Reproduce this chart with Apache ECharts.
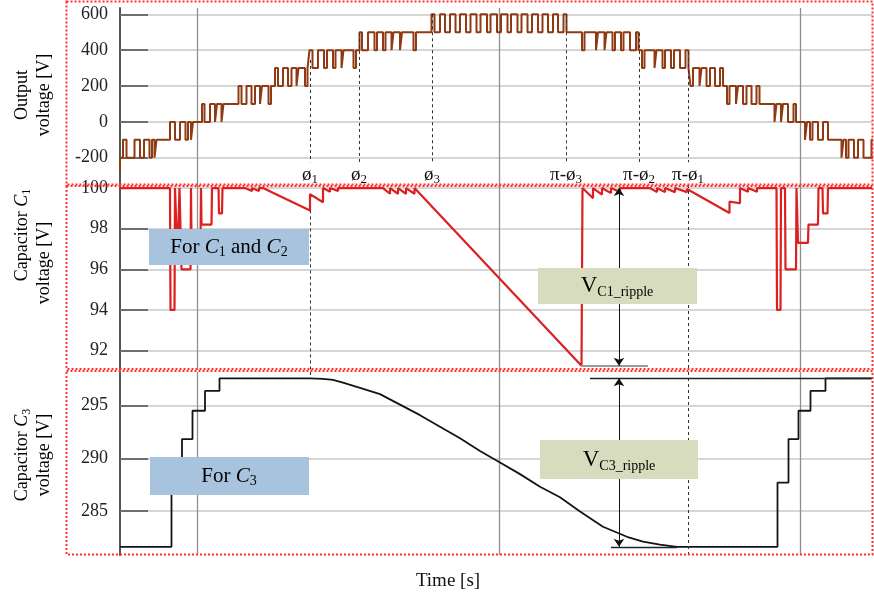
<!DOCTYPE html>
<html>
<head>
<meta charset="utf-8">
<script src="https://cdn.jsdelivr.net/npm/echarts@6/dist/echarts.min.js"></script>
<style>
  html, body { margin: 0; padding: 0; background: #fff; }
  #chart { width: 874px; height: 599px; }
</style>
</head>
<body>
<div id="chart"></div>
<script>
// ---------- time base (ms) ----------
const timeMin = 2.42;
const timeMax = 17.46;
const timeGridMs = [3.96, 10.0, 16.02];

// ---------- output voltage: level-shifted PWM staircase ----------
// each band: start time, base level, pulse level, pulse [on, off] times
const outStartV = -280;
const outSegStartMs = [2.42, 3.15, 3.88, 4.49, 5.44, 6.17, 7.14, 8.34, 11.66, 12.86, 13.83, 14.56, 15.51, 16.12, 16.85];
const outBaseV  = [-200, -100,   0, 100, 200, 300, 400, 500, 400, 300, 200, 100,   0, -100, -200];
const outPulseV = [-100,    0, 100, 200, 300, 400, 500, 600, 500, 400, 300, 200, 100,    0, -100];
const outPulsesMs = [
  [2.48, 2.55, 2.71, 2.82, 2.90, 3.01, 3.06, 3.11],
  [3.42, 3.52, 3.62, 3.73, 3.78, 3.84],
  [4.06, 4.11, 4.22, 4.32, 4.36, 4.45],
  [4.79, 4.85, 4.95, 5.05, 5.12, 5.22, 5.26, 5.39],
  [5.52, 5.58, 5.68, 5.78, 5.85, 5.95, 5.99, 6.12],
  [6.21, 6.27, 6.38, 6.50, 6.56, 6.68, 6.73, 6.85, 6.89, 7.09],
  [7.21, 7.26, 7.38, 7.51, 7.56, 7.68, 7.73, 7.85, 7.89, 8.02, 8.06, 8.29],
  [8.65, 8.71, 8.82, 8.92, 9.02, 9.13, 9.22, 9.34, 9.43, 9.55, 9.63, 9.76, 9.83, 9.96,
   10.04, 10.17, 10.24, 10.37, 10.45, 10.57, 10.66, 10.78, 10.87, 10.98, 11.08, 11.18, 11.29, 11.35],
  [11.71, 11.94, 11.98, 12.11, 12.15, 12.27, 12.32, 12.44, 12.49, 12.62, 12.74, 12.79],
  [12.91, 13.11, 13.15, 13.27, 13.32, 13.44, 13.50, 13.62, 13.73, 13.79],
  [13.88, 14.01, 14.05, 14.15, 14.22, 14.32, 14.42, 14.48],
  [14.61, 14.74, 14.78, 14.88, 14.95, 15.05, 15.15, 15.21],
  [15.55, 15.64, 15.68, 15.78, 15.89, 15.94],
  [16.16, 16.22, 16.27, 16.38, 16.48, 16.58],
  [16.89, 16.94, 16.99, 17.10, 17.18, 17.29, 17.45, 17.52]
];
const outTicks = [600, 400, 200, 0, -200];

// ---------- capacitor C1 voltage ----------
const c1TimeMs = [2.42, 3.42, 3.43, 3.51, 3.52, 3.56, 3.57, 3.60, 3.61, 3.64, 3.65, 3.83, 3.84, 3.85, 4.03, 4.04,
  4.05, 4.25, 4.26, 4.39, 4.40, 4.46, 4.47, 4.92, 5.06, 5.06, 5.20, 5.20, 5.28, 6.22, 6.22, 6.48, 6.48,
  6.62, 6.62, 6.78, 6.78, 7.68, 7.82, 7.82, 7.98, 7.98, 8.14, 8.14, 8.31, 8.31, 8.35, 11.65, 11.67,
  11.88, 11.88, 12.06, 12.06, 12.24, 12.24, 12.42, 12.42, 13.02, 13.16, 13.16, 13.32, 13.32, 13.52, 13.52,
  13.76, 13.76, 14.61, 14.61, 14.82, 14.82, 14.98, 14.98, 15.16, 15.16, 15.55, 15.56, 15.63, 15.64, 15.72,
  15.73, 15.94, 15.95, 15.97, 15.98, 16.18, 16.19, 16.38, 16.39, 16.47, 16.48, 16.57, 16.58, 17.46];
const c1Volt = [100, 100, 94.0, 94.0, 100, 100, 96.5, 96.5, 100, 100, 96.0, 96.0, 100, 97.3, 97.3, 100,
  98.2, 98.2, 100, 100, 98.75, 98.75, 100, 100, 99.85, 100, 99.85, 100, 100, 98.9, 99.7, 99.3, 100,
  99.82, 100, 99.86, 100, 100, 99.72, 100, 99.72, 100, 99.72, 100, 99.72, 100, 100, 91.25, 100,
  99.5, 100, 99.68, 100, 99.75, 100, 99.8, 100, 100, 99.8, 100, 99.8, 100, 99.8, 100,
  99.8, 99.95, 98.77, 99.33, 99.25, 100, 99.82, 100, 99.82, 100, 100, 94.0, 94.0, 100, 100,
  96.0, 96.0, 100, 100, 97.3, 97.3, 98.2, 98.2, 100, 100, 98.75, 98.75, 100, 100];
const c1Ticks = [100, 98, 96, 94, 92];

// ---------- capacitor C3 voltage ----------
const c3TimeMs = [2.42, 3.45, 3.45, 3.66, 3.66, 3.87, 3.87, 4.12, 4.12, 4.41, 4.41, 6.22, 6.48, 6.68, 6.88,
  7.22, 7.62, 8.02, 8.42, 8.82, 9.22, 9.62, 10.02, 10.42, 10.82, 11.22, 11.62, 12.08, 12.56, 12.88,
  13.22, 13.56, 15.57, 15.57, 15.79, 15.79, 15.99, 15.99, 16.23, 16.23, 16.53, 16.53, 17.46];
const c3Volt = [281.6, 281.6, 287.7, 287.7, 291.83, 291.83, 294.52, 294.52, 296.4, 296.4, 297.6, 297.6, 297.55,
  297.45, 297.2, 296.7, 296.1, 295.1, 294.1, 293.0, 291.9, 290.7, 289.6, 288.5, 287.3, 286.3, 284.95,
  283.5, 282.55, 282.1, 281.8, 281.6, 281.6, 287.7, 287.7, 291.83, 291.83, 294.52, 294.52, 296.4, 296.4,
  297.6, 297.6];
const c3Ticks = [295, 290, 285];

// ---------- switching angles ----------
const phaseMs   = [6.22, 7.20, 8.66, 11.34, 12.80, 13.78];
const phaseName = ['ø', 'ø', 'ø', 'π-ø', 'π-ø', 'π-ø'];
const phaseSub  = ['1', '2', '3', '3', '2', '1'];
const phaseTopV = [345, 496, 600, 600, 496, 390];

// ripple measurement positions (ms)
const rippleArrowMs = 12.40;
const c1RippleLineMs = [11.64, 12.98];
const c3TopLineMs = [11.82, 17.46];
const c3BottomLineMs = [12.24, 13.56];

// ---------- helpers ----------
function buildSteps() {
  const pts = [[outSegStartMs[0], outStartV]];
  let cur = outStartV;
  const go = (t, v) => { pts.push([t, cur]); pts.push([t, v]); cur = v; };
  for (let i = 0; i < outSegStartMs.length; i++) {
    go(outSegStartMs[i], outBaseV[i]);
    const p = outPulsesMs[i];
    for (let k = 0; k < p.length; k += 2) {
      go(p[k], outPulseV[i]);
      go(p[k + 1], outBaseV[i]);
    }
  }
  pts.push([timeMax, cur]);
  return pts;
}
const zip = (a, b) => a.map((t, i) => [t, b[i]]);

const serif = "'Liberation Serif', 'Times New Roman', serif";
const c1Max = Math.max(...c1Volt), c1Min = Math.min(...c1Volt);
const c3Max = Math.max(...c3Volt), c3Min = Math.min(...c3Volt);
const yRanges = [[-352, 635], [91.04, 100.15], [280.82, 298.2]];

function xAxisDef(idx, name) {
  return {
    type: 'value', gridIndex: idx, min: timeMin, max: timeMax,
    axisLine: { show: false },
    axisTick: { show: false, customValues: timeGridMs },
    axisLabel: { show: false },
    splitLine: { show: true, lineStyle: { color: '#8e8e8e', width: 1.3 } },
    name: name || '', nameLocation: 'middle', nameGap: 17,
    nameTextStyle: { fontFamily: serif, fontSize: 19, color: '#111', padding: [0, 96, 0, 0] }
  };
}
function yAxisDef(idx, ticks) {
  return {
    type: 'value', gridIndex: idx, min: yRanges[idx][0], max: yRanges[idx][1],
    axisLine: { show: true, lineStyle: { color: '#555', width: 2 } },
    axisTick: { show: true, inside: true, length: 28, customValues: ticks, lineStyle: { color: '#6e6e6e', width: 2 } },
    axisLabel: { show: true, customValues: ticks, margin: 12, fontFamily: serif, fontSize: 18, color: '#222' },
    splitLine: { show: true, lineStyle: { color: '#c8c8c8', width: 1.5 } }
  };
}

const dashStyle = { color: '#333', width: 1, type: [3, 3] };
const vline = (t, a, b) => [{ coord: [t, a], lineStyle: dashStyle }, { coord: [t, b] }];
const hline = (t0, t1, v, style) => [{ coord: [t0, v], lineStyle: style }, { coord: [t1, v] }];
const arrow = (t, a, b) => [
  { coord: [t, a], symbol: 'arrow', lineStyle: { color: '#111', width: 1, type: 'solid' } },
  { coord: [t, b], symbol: 'arrow' }
];

const subRich = {
  a: { fontFamily: serif, fontSize: 19, color: '#111', lineHeight: 22 },
  s: { fontFamily: serif, fontSize: 13, color: '#111', lineHeight: 14, verticalAlign: 'bottom' }
};
const boxRich = {
  n: { fontFamily: serif, fontSize: 21, color: '#1b1b28', lineHeight: 24 },
  i: { fontFamily: serif, fontSize: 21, fontStyle: 'italic', color: '#1b1b28', lineHeight: 24 },
  s: { fontFamily: serif, fontSize: 14, color: '#1b1b28', lineHeight: 15, verticalAlign: 'bottom' },
  v: { fontFamily: serif, fontSize: 23, color: '#1b1b28', lineHeight: 26 },
  r: { fontFamily: serif, fontSize: 14, color: '#1b1b28', lineHeight: 16, verticalAlign: 'bottom' }
};
const titleRich = {
  n: { fontFamily: serif, fontSize: 18, color: '#111', lineHeight: 22 },
  i: { fontFamily: serif, fontSize: 18, fontStyle: 'italic', color: '#111', lineHeight: 22 },
  s: { fontFamily: serif, fontSize: 12, color: '#111', lineHeight: 13, verticalAlign: 'bottom' }
};

function frame(y, h) {
  return { type: 'rect', z: 120, silent: true, shape: { x: 66.5, y: y, width: 806, height: h },
    style: { fill: 'none', stroke: '#ff3030', lineWidth: 2, lineDash: [2, 2] } };
}
function box(x, y, w, h, fill, text, cx, cy) {
  return [
    { type: 'rect', z: 100, silent: true, shape: { x, y, width: w, height: h }, style: { fill } },
    { type: 'text', z: 101, silent: true, x: cx, y: cy,
      style: { text, rich: boxRich, align: 'center', verticalAlign: 'middle' } }
  ];
}
function title(text, cx, cy) {
  return { type: 'text', z: 101, silent: true, x: cx, y: cy, rotation: Math.PI / 2,
    style: { text, rich: titleRich, align: 'center', verticalAlign: 'middle' } };
}

const chart = echarts.init(document.getElementById('chart'), null, { renderer: 'canvas' });
chart.setOption({
  animation: false,
  backgroundColor: '#ffffff',
  textStyle: { fontFamily: serif },
  grid: [
    { left: 120, right: 2, top: 8, height: 177 },
    { left: 120, right: 2, top: 185, height: 185 },
    { left: 120, right: 2, top: 372, height: 183 }
  ],
  xAxis: [xAxisDef(0), xAxisDef(1), xAxisDef(2, 'Time [s]')],
  yAxis: [yAxisDef(0, outTicks), yAxisDef(1, c1Ticks), yAxisDef(2, c3Ticks)],
  series: [
    {
      name: 'Output voltage', type: 'line', xAxisIndex: 0, yAxisIndex: 0,
      data: buildSteps(), showSymbol: false, symbol: 'none', silent: true, z: 3,
      lineStyle: { color: '#8f3a12', width: 2 },
      markLine: {
        silent: true, symbol: 'none', label: { show: false },
        data: phaseMs.map((t, i) => vline(t, phaseTopV[i], -225))
      },
      markPoint: {
        silent: true, symbol: 'rect', symbolSize: 0,
        label: {
          show: true, position: 'inside', rich: subRich,
          formatter: p => '{a|' + p.data.tag + '}{s|' + p.data.sub + '}'
        },
        data: phaseMs.map((t, i) => ({ coord: [t, -297], tag: phaseName[i], sub: phaseSub[i] }))
      }
    },
    {
      name: 'C1 voltage', type: 'line', xAxisIndex: 1, yAxisIndex: 1,
      data: zip(c1TimeMs, c1Volt), showSymbol: false, symbol: 'none', silent: true, z: 3,
      lineStyle: { color: '#dc1f1f', width: 2.2 },
      markLine: {
        silent: true, symbol: 'none', symbolSize: 8, label: { show: false },
        data: [
          vline(phaseMs[0], 98.9, yRanges[1][0]),
          vline(phaseMs[5], yRanges[1][1], yRanges[1][0]),
          hline(c1RippleLineMs[0], c1RippleLineMs[1], c1Min, { color: '#9a9a9a', width: 2, type: 'solid' }),
          arrow(rippleArrowMs, c1Max, c1Min)
        ]
      }
    },
    {
      name: 'C3 voltage', type: 'line', xAxisIndex: 2, yAxisIndex: 2,
      data: zip(c3TimeMs, c3Volt), showSymbol: false, symbol: 'none', silent: true, z: 3,
      smooth: false,
      lineStyle: { color: '#141414', width: 1.8 },
      markLine: {
        silent: true, symbol: 'none', symbolSize: 8, label: { show: false },
        data: [
          vline(phaseMs[0], yRanges[2][1], c3Max),
          vline(phaseMs[5], yRanges[2][1], yRanges[2][0]),
          hline(c3TopLineMs[0], c3TopLineMs[1], c3Max, { color: '#222', width: 1.3, type: 'solid' }),
          hline(c3BottomLineMs[0], c3BottomLineMs[1], c3Min, { color: '#222', width: 1.3, type: 'solid' }),
          arrow(rippleArrowMs, c3Max, c3Min)
        ]
      }
    }
  ],
  graphic: [
    frame(1.5, 183), frame(186, 183), frame(371, 183.5),
    title('{n|Output}\n{n|voltage [V]}', 33, 95),
    title('{n|Capacitor }{i|C}{s|1}', 22, 235),
    title('{n|voltage [V]}', 44, 263),
    title('{n|Capacitor }{i|C}{s|3}\n{n|voltage [V]}', 33, 455),
    ...box(149, 229, 160, 36, '#a7c3dd', '{n|For }{i|C}{s|1}{n| and }{i|C}{s|2}', 229, 247),
    ...box(538, 268, 159, 36, '#d6dcbd', '{v|V}{r|C1_ripple}', 617, 286),
    ...box(150, 457, 159, 38, '#a7c3dd', '{n|For }{i|C}{s|3}', 229, 476),
    ...box(540, 440, 158, 39, '#d6dcbd', '{v|V}{r|C3_ripple}', 619, 460)
  ]
});
</script>
</body>
</html>
